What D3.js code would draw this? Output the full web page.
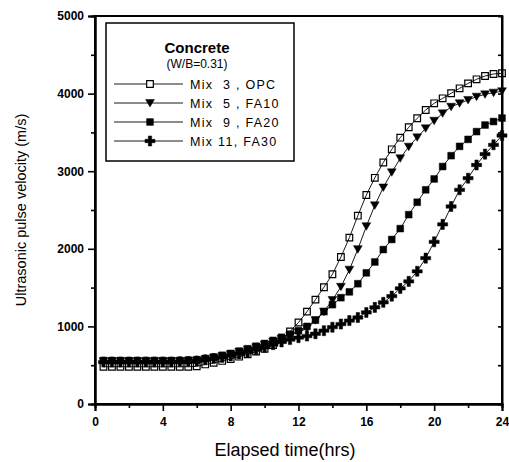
<!DOCTYPE html>
<html>
<head>
<meta charset="utf-8">
<script src="https://cdn.jsdelivr.net/npm/d3@7"></script>
<style>
  body { margin: 0; background: #fff; }
  text { font-family: "Liberation Sans", Arial, sans-serif; fill: #000; }
</style>
</head>
<body>
<svg id="chart" width="509" height="462"></svg>
<script>
// elapsed time in hours, one reading every half hour
const hours = d3.range(1, 49).map(i => i / 2);

// pulse velocity (m/s)
const mix3_opc = [480, 480, 480, 480, 480, 480, 480, 480, 480, 480, 480, 485,
  510, 530, 555, 580, 610, 640, 675, 710, 760, 830, 935, 1050,
  1190, 1345, 1505, 1672, 1894, 2144, 2427, 2693, 2915, 3112, 3282, 3432,
  3566, 3682, 3789, 3875, 3939, 4004, 4068, 4132, 4184, 4227, 4253, 4262];
const mix5_fa10 = [550, 550, 550, 550, 550, 550, 550, 550, 550, 552, 555, 560,
  575, 595, 615, 640, 670, 700, 730, 765, 800, 840, 880, 925,
  975, 1080, 1190, 1340, 1510, 1730, 1995, 2290, 2560, 2790, 2985, 3166,
  3316, 3436, 3552, 3650, 3745, 3830, 3875, 3918, 3960, 3990, 4012, 4030];
const mix9_fa20 = [560, 560, 560, 560, 560, 560, 560, 560, 560, 562, 565, 570,
  585, 605, 628, 652, 682, 712, 745, 780, 820, 860, 900, 945,
  1000, 1080, 1190, 1280, 1370, 1445, 1550, 1690, 1830, 1990, 2120, 2260,
  2440, 2600, 2760, 2900, 3060, 3200, 3320, 3410, 3510, 3595, 3640, 3685];
const mix11_fa30 = [540, 540, 540, 540, 540, 540, 540, 540, 540, 545, 548, 555,
  570, 585, 600, 620, 645, 670, 700, 730, 765, 800, 830, 855,
  875, 905, 945, 990, 1030, 1075, 1115, 1180, 1245, 1310, 1390, 1490,
  1580, 1710, 1880, 2090, 2315, 2545, 2760, 2910, 3080, 3220, 3340, 3460];

const seriesNames = ['Mix  3 , OPC', 'Mix  5 , FA10', 'Mix  9 , FA20', 'Mix 11, FA30'];
const xTicks = [0, 4, 8, 12, 16, 20, 24];
const yTicks = [0, 1000, 2000, 3000, 4000, 5000];

const svg = d3.select('#chart');
const margins = { left: 95, top: 16, right: 7, bottom: 58 };
const width = +svg.attr('width') - margins.left - margins.right;
const height = +svg.attr('height') - margins.top - margins.bottom;

const x = d3.scaleLinear().domain([0, 24]).range([margins.left, margins.left + width]);
const y = d3.scaleLinear().domain([0, 5000]).range([margins.top + height, margins.top]);

// marker shapes
const triDown = s => `M${-s},${-s * 0.8}L${s},${-s * 0.8}L0,${s * 0.9}Z`;
const markers = [
  { path: d3.symbol(d3.symbolSquare, 44)(), fill: 'none', stroke: '#000', sw: 1.2 },
  { path: triDown(4.4), fill: '#000', stroke: '#000', sw: 0.5 },
  { path: d3.symbol(d3.symbolSquare, 46)(), fill: '#000', stroke: '#000', sw: 0.5 },
  { path: d3.symbol(d3.symbolCross, 56)(), fill: '#000', stroke: '#000', sw: 0.5 }
];
const allSeries = [mix3_opc, mix5_fa10, mix9_fa20, mix11_fa30];

const line = d3.line().x((d, i) => x(hours[i])).y(d => y(d));
const plot = svg.append('g');

// draw the last series first so the open squares sit on top
[3, 2, 1, 0].forEach(k => {
  plot.append('path')
    .datum(allSeries[k])
    .attr('d', line)
    .attr('fill', 'none')
    .attr('stroke', '#000')
    .attr('stroke-width', 0.9);
  plot.selectAll(null)
    .data(allSeries[k])
    .enter().append('path')
    .attr('d', markers[k].path)
    .attr('transform', (d, i) => `translate(${x(hours[i])},${y(d)})`)
    .attr('fill', markers[k].fill)
    .attr('stroke', markers[k].stroke)
    .attr('stroke-width', markers[k].sw);
});

// axes
svg.append('g').attr('transform', `translate(0,${margins.top + height})`)
  .call(d3.axisBottom(x).tickValues(xTicks).tickSize(7).tickPadding(6).tickFormat(d3.format('d')));
svg.append('g').attr('transform', `translate(0,${margins.top + height})`)
  .call(d3.axisBottom(x).tickValues(d3.range(2, 24, 4)).tickSize(4).tickFormat(''));
svg.append('g').attr('transform', `translate(${margins.left},0)`)
  .call(d3.axisLeft(y).tickValues(yTicks).tickSize(7).tickPadding(4).tickFormat(d3.format('d')));
svg.append('g').attr('transform', `translate(${margins.left},0)`)
  .call(d3.axisLeft(y).tickValues(d3.range(500, 5000, 1000)).tickSize(4).tickFormat(''));
// right side ticks pointing in
svg.append('g').attr('transform', `translate(${margins.left + width},0)`)
  .call(d3.axisLeft(y).tickValues(d3.range(500, 5000, 500)).tickSize(4).tickFormat(''));

svg.selectAll('.domain').attr('stroke-width', 2);
svg.selectAll('.tick line').attr('stroke-width', 1.6);
svg.selectAll('.tick text')
  .style('font-family', '"Liberation Sans", Arial, sans-serif')
  .style('font-size', '12px')
  .style('font-weight', 'bold');

// frame: top and right borders
svg.append('rect')
  .attr('x', margins.left).attr('y', margins.top)
  .attr('width', width).attr('height', height)
  .attr('fill', 'none').attr('stroke', '#000').attr('stroke-width', 2);

// axis titles
svg.append('text')
  .attr('x', x(11.2)).attr('y', 456)
  .attr('text-anchor', 'middle')
  .style('font-size', '18px')
  .text('Elapsed time(hrs)');
svg.append('text')
  .attr('transform', `translate(26,${y(2500)}) rotate(-90)`)
  .attr('text-anchor', 'middle')
  .style('font-size', '14.5px')
  .text('Ultrasonic pulse velocity (m/s)');

// legend
const legend = svg.append('g');
legend.append('rect')
  .attr('x', 106).attr('y', 23).attr('width', 188).attr('height', 138)
  .attr('fill', '#fff').attr('stroke', '#000').attr('stroke-width', 1.5);
legend.append('text')
  .attr('x', 197).attr('y', 53).attr('text-anchor', 'middle')
  .style('font-size', '15px').style('font-weight', 'bold')
  .text('Concrete');
legend.append('text')
  .attr('x', 197).attr('y', 68).attr('text-anchor', 'middle')
  .style('font-size', '12px')
  .text('(W/B=0.31)');

seriesNames.forEach((name, k) => {
  const ly = 84 + k * 19;
  legend.append('line')
    .attr('x1', 114).attr('x2', 183).attr('y1', ly).attr('y2', ly)
    .attr('stroke', '#000').attr('stroke-width', 0.9);
  legend.append('path')
    .attr('d', markers[k].path)
    .attr('transform', `translate(150,${ly})`)
    .attr('fill', markers[k].fill === 'none' ? '#fff' : markers[k].fill)
    .attr('stroke', markers[k].stroke)
    .attr('stroke-width', markers[k].sw);
  legend.append('text')
    .attr('x', 190).attr('y', ly + 4.5)
    .style('font-size', '12.5px')
    .style('letter-spacing', '1.3px')
    .style('white-space', 'pre')
    .text(name);
});
</script>
</body>
</html>
